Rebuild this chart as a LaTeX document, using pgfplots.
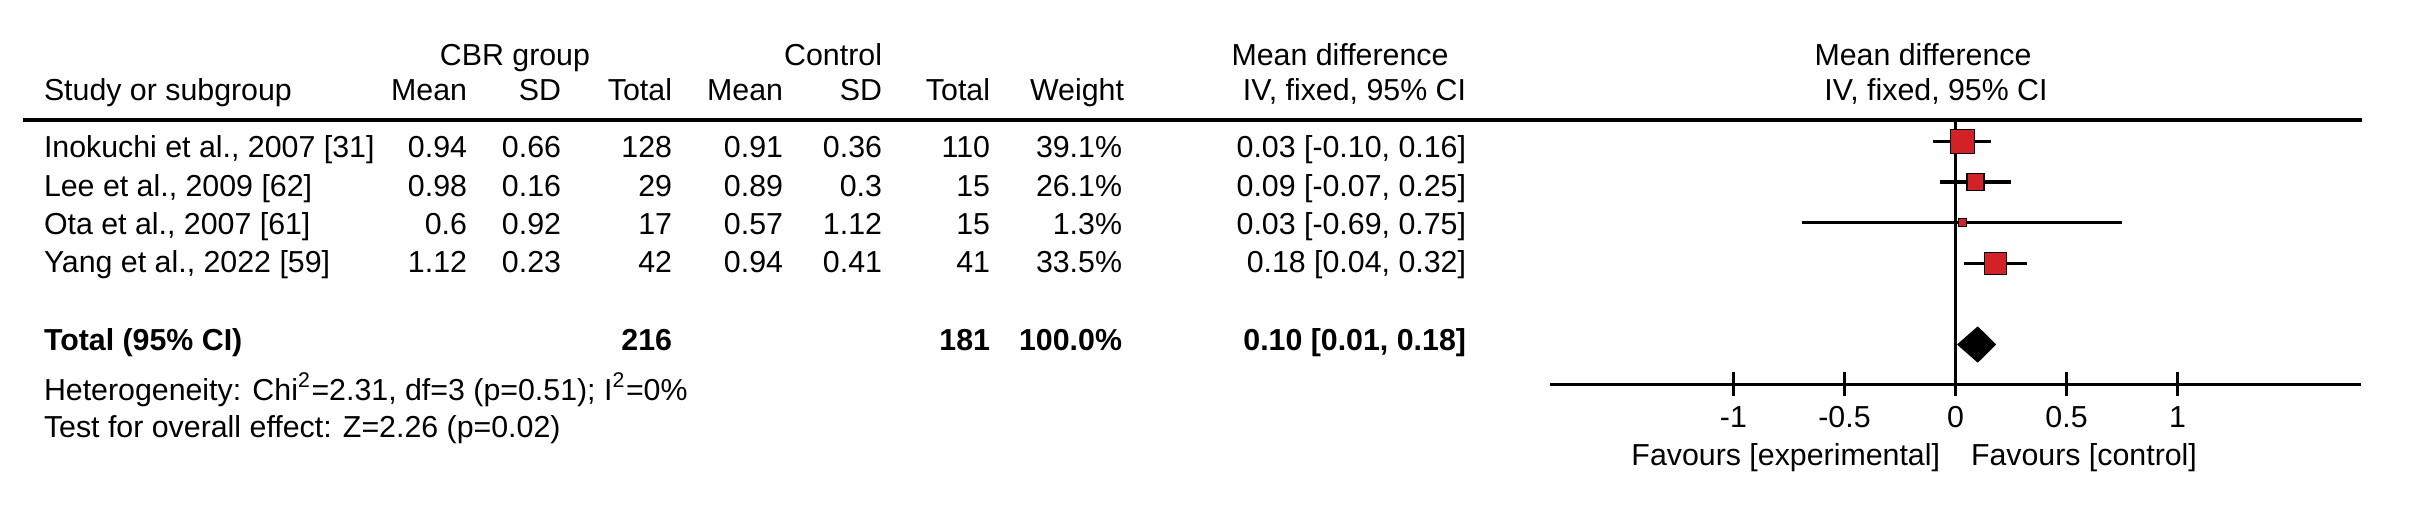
\documentclass[border=0pt]{standalone}
\usepackage{pgfplots}
\pgfplotsset{compat=1.18}
\usepackage{fontspec}
\setmainfont{Liberation Sans}
\definecolor{sq}{RGB}{211,33,40}
\newcommand{\fs}{\fontsize{9.1bp}{11bp}\selectfont}
\begin{document}
\begin{tikzpicture}[x=0.3bp,y=-0.3bp,font=\fs]
\useasboundingbox (0,0) rectangle (2415,505);
\coordinate (axSW) at (1550,384);
\begin{axis}[at={(axSW)},anchor=south west, scale only axis,
  width=243.3bp, height=79.2bp,
  xmin=-1.826, xmax=1.826, ymin=-384, ymax=-120,
  axis x line=bottom, axis y line=none,
  axis line style={-, line width=0.9bp, black},
  xtick={-1,-0.5,0,0.5,1}, xticklabels={-1,-0.5,0,0.5,1},
  tick align=center, major tick length=7.2bp,
  tick style={line width=0.8bp, black},
  xticklabel style={anchor=base, yshift=-9.3bp, font=\fs, inner sep=0pt},
  clip=false]
% zero line
\addplot[black, line width=0.8bp] coordinates {(0,-120) (0,-384)};
% confidence intervals
\addplot[black, line width=1bp] coordinates {(-0.10,-141.7) (0.16,-141.7)};
\addplot[black, line width=1bp] coordinates {(-0.07,-182) (0.25,-182)};
\addplot[black, line width=1bp] coordinates {(-0.69,-222.7) (0.75,-222.7)};
\addplot[black, line width=1bp] coordinates {(0.04,-263.3) (0.32,-263.3)};
% point estimates (size by weight)
\addplot[only marks, mark=square*, mark size=3.6bp, mark options={draw=none, fill=sq}] coordinates {(0.03,-141.7)};
\addplot[only marks, mark=square*, mark size=2.55bp, mark options={draw=none, fill=sq}] coordinates {(0.09,-182)};
\addplot[only marks, mark=square*, mark size=1.2bp, mark options={draw=none, fill=sq}] coordinates {(0.03,-222.7)};
\addplot[only marks, mark=square*, mark size=3.3bp, mark options={draw=none, fill=sq}] coordinates {(0.18,-263.3)};
% pooled diamond
\addplot[fill=black, draw=black, line width=0.3bp] coordinates {(0.01,-344.5) (0.10,-327) (0.18,-344.5) (0.10,-362)} -- cycle;
\end{axis}
\begin{scope}[every node/.style={inner sep=0pt, outer sep=0pt}]
\draw[line width=1bp] (23,120) -- (2362,120);
% headers
\node[anchor=base] at (515,65) {CBR group};
\node[anchor=base east] at (882,65) {Control};
\node[anchor=base] at (1340,65) {Mean difference};
\node[anchor=base] at (1923,65) {Mean difference};
\node[anchor=base west] at (44,100.7) {Study or subgroup};
\node[anchor=base east] at (467,100.7) {Mean};
\node[anchor=base east] at (561,100.7) {SD};
\node[anchor=base east] at (672,100.7) {Total};
\node[anchor=base east] at (783,100.7) {Mean};
\node[anchor=base east] at (882,100.7) {SD};
\node[anchor=base east] at (990,100.7) {Total};
\node[anchor=base east] at (1124,100.7) {Weight};
\node[anchor=base east] at (1466,100.7) {IV, fixed, 95\% CI};
\node[anchor=base] at (1936,100.7) {IV, fixed, 95\% CI};
% rows
\foreach \yy/\name/\ma/\sa/\ta/\mb/\sb/\tb/\w/\ci in {
 157.3/{Inokuchi et al., 2007 [31]}/0.94/0.66/128/0.91/0.36/110/39.1/{0.03 [-0.10, 0.16]},
 196/{Lee et al., 2009 [62]}/0.98/0.16/29/0.89/0.3/15/26.1/{0.09 [-0.07, 0.25]},
 234.3/{Ota et al., 2007 [61]}/0.6/0.92/17/0.57/1.12/15/1.3/{0.03 [-0.69, 0.75]},
 272.3/{Yang et al., 2022 [59]}/1.12/0.23/42/0.94/0.41/41/33.5/{0.18 [0.04, 0.32]}}{
 \node[anchor=base west] at (44,\yy) {\name};
 \node[anchor=base east] at (467,\yy) {\ma};
 \node[anchor=base east] at (561,\yy) {\sa};
 \node[anchor=base east] at (672,\yy) {\ta};
 \node[anchor=base east] at (783,\yy) {\mb};
 \node[anchor=base east] at (882,\yy) {\sb};
 \node[anchor=base east] at (990,\yy) {\tb};
 \node[anchor=base east] at (1122,\yy) {\w\%};
 \node[anchor=base east] at (1466,\yy) {\ci};
}
% total
\node[anchor=base west, font=\fs\bfseries] at (44,350) {Total (95\% CI)};
\node[anchor=base east, font=\fs\bfseries] at (672,350) {216};
\node[anchor=base east, font=\fs\bfseries] at (990,350) {181};
\node[anchor=base east, font=\fs\bfseries] at (1122,350) {100.0\%};
\node[anchor=base east, font=\fs\bfseries] at (1466,350) {0.10 [0.01, 0.18]};
\node[anchor=base west] at (44,400) {Heterogeneity: Chi\textsuperscript{2}=2.31, df=3 (p=0.51); I\textsuperscript{2}=0\%};
\node[anchor=base west] at (44,437.7) {Test for overall effect: Z=2.26 (p=0.02)};
% favours
\node[anchor=base east] at (1940,465) {Favours [experimental]};
\node[anchor=base west] at (1971,465) {Favours [control]};
\end{scope}
\end{tikzpicture}
\end{document}
